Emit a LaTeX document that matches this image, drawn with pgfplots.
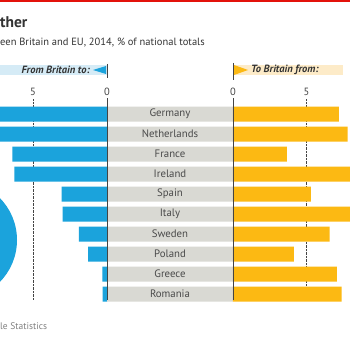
\documentclass[border=0pt]{standalone}
\usepackage{pgfplots}
\pgfplotsset{compat=1.18}
\usepackage{fontspec}
\setmainfont{PT Sans}
\definecolor{ebblue}{HTML}{1BA3DC}
\definecolor{ebor}{HTML}{FCB913}
\definecolor{band}{HTML}{D9D9D3}
\definecolor{lblue}{HTML}{D5EBF6}
\definecolor{lor}{HTML}{FDEBC8}
\definecolor{ered}{HTML}{E3120B}
\definecolor{dk}{HTML}{444444}
\definecolor{txt}{HTML}{333333}
\definecolor{cat}{HTML}{4A4A4A}
\pgfplotsset{
  common/.style={
    scale only axis, height=201pt, ymin=-0.75, ymax=9.3, y dir=reverse,
    axis x line*=top, x axis line style={draw=none},
    xtick={0,5}, major tick length=0pt,
    xmajorgrids, grid style={densely dotted, dk, line width=0.6pt},
    /pgf/number format/assume math mode=true,
    xticklabel style={font=\fontsize{10.5}{12}\selectfont, text=dk},
    clip=false,
  }
}
\begin{document}
\begin{tikzpicture}
\useasboundingbox (0pt,0pt) rectangle (350pt,-350pt);
\clip (0pt,0pt) rectangle (350pt,-350pt);
\fill[white] (0pt,0pt) rectangle (350pt,-350pt);
\fill[ered] (0pt,0pt) rectangle (350pt,-2pt);
\node[anchor=west, inner sep=0, font=\bfseries\fontsize{15.5}{17}\selectfont, text=txt] at (0pt,-22pt) {ther};
\node[anchor=west, inner sep=0, font=\fontsize{10.5}{12}\selectfont, text=txt] at (0pt,-43pt) {een Britain and EU, 2014, \% of national totals};
\node[anchor=west, inner sep=0, font=\fontsize{9.5}{11}\selectfont, text=gray] at (0pt,-326pt) {le Statistics};
% pie fragment
\fill[ebblue] (-43pt,-240pt) circle (60pt);
% headers
\fill[lblue] (0pt,-65pt) rectangle (107pt,-75pt);
\node[anchor=east, inner sep=0, font=\bfseries\itshape\fontsize{10.5}{12}\selectfont, text=txt] at (90pt,-70pt) {From Britain to:};
\fill[ebblue] (106pt,-66pt) -- (106pt,-74pt) -- (93pt,-70pt) -- cycle;
\draw[dk, line width=0.8pt] (107pt,-64pt) -- (107pt,-78pt);
\fill[lor] (233pt,-65pt) rectangle (343pt,-75pt);
\fill[ebor] (234pt,-65pt) -- (234pt,-75pt) -- (248pt,-70pt) -- cycle;
\node[anchor=west, inner sep=0, font=\bfseries\itshape\fontsize{10.5}{12}\selectfont, text=txt] at (251pt,-70pt) {To Britain from:};
\draw[dk, line width=0.8pt] (233pt,-63pt) -- (233pt,-80pt);

% left axis: from Britain to
\begin{axis}[common, at={(0pt,-300pt)}, anchor=south west, width=107pt,
  xmin=0, xmax=7.23, x dir=reverse, axis y line=none]
\addplot[xbar, fill=ebblue, draw=none, bar width=15pt, bar shift=0pt] coordinates {
(10.2,0) (8.6,1) (6.4,2) (6.26,3) (3.06,4) (3.0,5) (1.9,6) (1.28,7) (0.32,8) (0.3,9)};
\end{axis}

% right axis: to Britain from
\begin{axis}[common, at={(107pt,-300pt)}, anchor=south west, width=243pt,
  xmin=-8.57, xmax=7.96, axis y line=none]
\addplot[xbar, fill=band, draw=none, bar width=15pt, bar shift=0pt] coordinates {
(-8.57,0) (-8.57,1) (-8.57,2) (-8.57,3) (-8.57,4) (-8.57,5) (-8.57,6) (-8.57,7) (-8.57,8) (-8.57,9)};
\addplot[xbar, fill=ebor, draw=none, bar width=15pt, bar shift=0pt] coordinates {
(7.2,0) (7.8,1) (3.67,2) (9.0,3) (5.29,4) (9.0,5) (6.58,6) (4.15,7) (7.07,8) (7.39,9)};
\addplot[only marks, mark=none, point meta=explicit symbolic, nodes near coords,
  every node near coord/.append style={anchor=center, inner sep=0pt, font=\fontsize{10.8}{12}\selectfont, text=cat}]
  coordinates {
(-4.285,0) [Germany] (-4.285,1) [Netherlands] (-4.285,2) [France] (-4.285,3) [Ireland]
(-4.285,4) [Spain] (-4.285,5) [Italy] (-4.285,6) [Sweden] (-4.285,7) [Poland]
(-4.285,8) [Greece] (-4.285,9) [Romania]};
\draw[dk, line width=0.8pt] (axis cs:0,-0.8) -- (axis cs:0,9.3);
\draw[dk, line width=0.8pt] (axis cs:-8.57,-0.8) -- (axis cs:-8.57,9.3);
\end{axis}
\end{tikzpicture}
\end{document}
